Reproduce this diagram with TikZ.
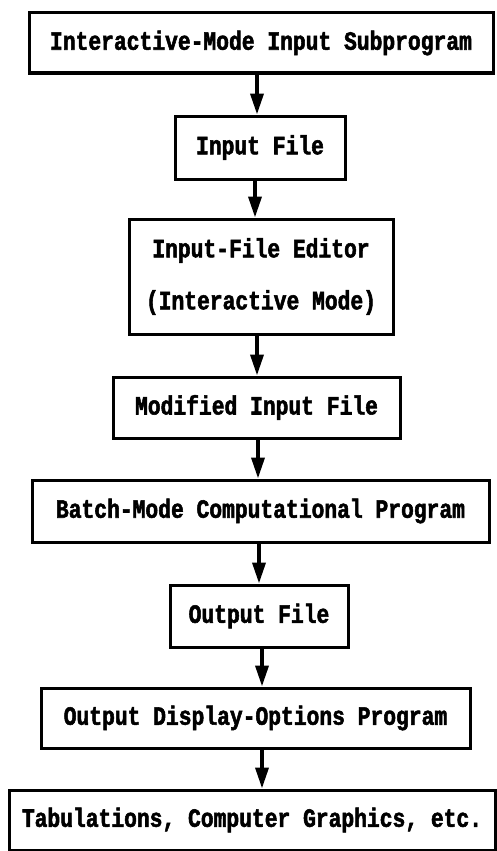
\documentclass[tikz,border=0pt]{standalone}
\usepackage{fontspec}
\usetikzlibrary{arrows.meta}
% heavy, narrow typewriter face for the box labels
\newfontfamily\boxfont{Liberation Mono}[FakeStretch=0.81, BoldFeatures={FakeBold=2}]
\tikzset{
  stagebox/.style={draw=black, line width=3pt, fill=white, inner sep=0pt,
    align=center, font=\boxfont\bfseries\fontsize{26.3}{52}\selectfont},
  flowarrow/.style={line width=3.6pt, -{Triangle[length=21pt,width=13pt]}}
}
\begin{document}
\begin{tikzpicture}[x=1pt, y=1pt]
  \fill[white] (0,0) rectangle (496,-851);
  \useasboundingbox (0,0) rectangle (496,-851);

  \node[stagebox, minimum width=464pt, minimum height=60pt] (b1) at (261,-43)
    {Interactive-Mode Input Subprogram};
  \node[stagebox, minimum width=170pt, minimum height=63pt] (b2) at (260,-147.5)
    {Input File};
  \node[stagebox, minimum width=264pt, minimum height=115pt] (b3) at (261,-276.5)
    {Input-File Editor\\(Interactive Mode)};
  \node[stagebox, minimum width=287pt, minimum height=61pt] (b4) at (256.5,-407.5)
    {Modified Input File};
  \node[stagebox, minimum width=457pt, minimum height=62pt] (b5) at (260.5,-511)
    {Batch-Mode Computational Program};
  \node[stagebox, minimum width=178pt, minimum height=62pt] (b6) at (259,-616)
    {Output File};
  \node[stagebox, minimum width=429pt, minimum height=60pt] (b7) at (255.5,-718)
    {Output Display-Options Program};
  \node[stagebox, minimum width=486pt, minimum height=60pt] (b8) at (252,-820)
    {Tabulations, Computer Graphics, etc.};

  \draw[flowarrow] (b1.south -| 257,0) -- (b2.north -| 257,0);
  \draw[flowarrow] (b2.south -| 255,0) -- (b3.north -| 255,0);
  \draw[flowarrow] (b3.south -| 257,0) -- (b4.north -| 257,0);
  \draw[flowarrow] (b4.south -| 258,0) -- (b5.north -| 258,0);
  \draw[flowarrow] (b5.south -| 259,0) -- (b6.north -| 259,0);
  \draw[flowarrow] (b6.south -| 262,0) -- (b7.north -| 262,0);
  \draw[flowarrow] (b7.south -| 262,0) -- (b8.north -| 262,0);
\end{tikzpicture}
\end{document}
